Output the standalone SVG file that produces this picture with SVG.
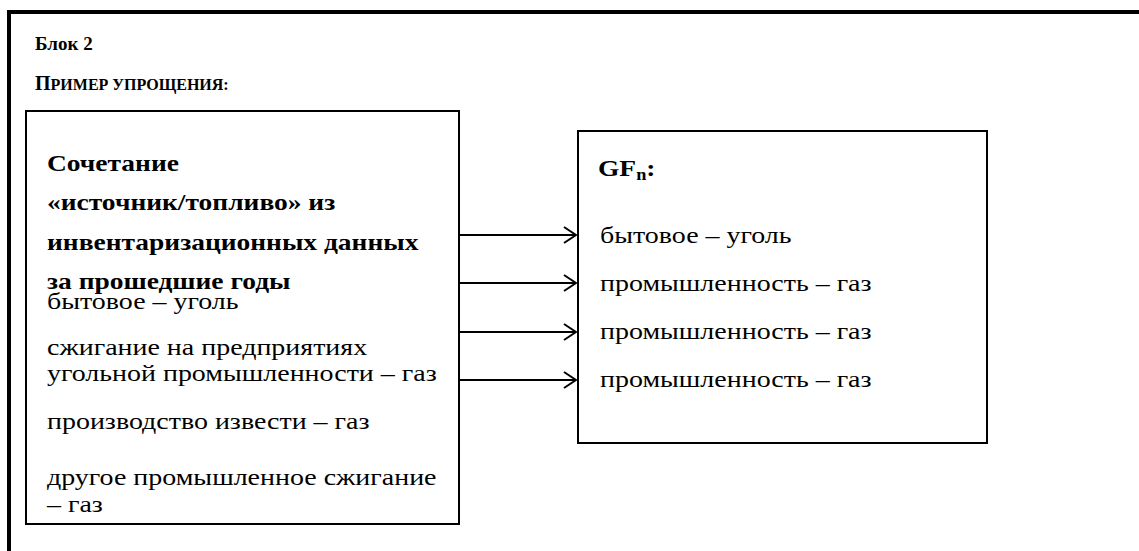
<svg xmlns="http://www.w3.org/2000/svg" width="1139" height="551" viewBox="0 0 1139 551">
<defs>
<style>
.t{font-family:"Liberation Serif","Times New Roman",serif;font-size:24px;fill:#000}
.h{font-family:"Liberation Serif","Times New Roman",serif;font-weight:bold;fill:#000}
.b{font-weight:bold}
.box{fill:#fff;stroke:#000;stroke-width:2}
.arr{stroke:#000;stroke-width:2;fill:none}
</style>
<marker id="ah" viewBox="0 0 14 18" refX="13" refY="9" markerWidth="14" markerHeight="18" markerUnits="userSpaceOnUse" orient="auto">
<path d="M1 1 L13 9 L1 17" fill="none" stroke="#000" stroke-width="2"/>
</marker>
</defs>
<rect width="1139" height="551" fill="#fff"/>
<path d="M9 551 V12 H1139" fill="none" stroke="#000" stroke-width="4"/>
<g id="header">
<text class="h" x="35" y="50" style="font-size:19px">Блок 2</text>
<text class="h" x="35" y="90" style="font-size:20px">П<tspan style="font-size:16px">РИМЕР УПРОЩЕНИЯ:</tspan></text>
</g>
<g id="source">
<rect class="box" x="26" y="111" width="433" height="413"/>
<text class="t b" transform="translate(47,171) scale(1.145,1)">Сочетание</text>
<text class="t b" transform="translate(47,210) scale(1.145,1)">«источник/топливо» из</text>
<text class="t b" transform="translate(47,250) scale(1.145,1)">инвентаризационных данных</text>
<text class="t b" transform="translate(47,289) scale(1.145,1)">за прошедшие годы</text>
<text class="t" transform="translate(47,309) scale(1.165,1)">бытовое – уголь</text>
<text class="t" transform="translate(47,355) scale(1.165,1)">сжигание на предприятиях</text>
<text class="t" transform="translate(47,381) scale(1.165,1)">угольной промышленности – газ</text>
<text class="t" transform="translate(47,429) scale(1.165,1)">производство извести – газ</text>
<text class="t" transform="translate(47,485) scale(1.165,1)">другое промышленное сжигание</text>
<text class="t" transform="translate(47,512) scale(1.165,1)">– газ</text>
</g>
<g id="target">
<rect class="box" x="578" y="131" width="409" height="312"/>
<text class="t b" transform="translate(598,176) scale(1.145,1)">GF<tspan style="font-size:16px" dy="4">n</tspan><tspan dy="-4">:</tspan></text>
<text class="t" transform="translate(600,243) scale(1.165,1)">бытовое – уголь</text>
<text class="t" transform="translate(600,291) scale(1.165,1)">промышленность – газ</text>
<text class="t" transform="translate(600,339) scale(1.165,1)">промышленность – газ</text>
<text class="t" transform="translate(600,387) scale(1.165,1)">промышленность – газ</text>
</g>
<g id="connectors">
<line class="arr" x1="459" y1="235" x2="576" y2="235" marker-end="url(#ah)"/>
<line class="arr" x1="459" y1="283" x2="576" y2="283" marker-end="url(#ah)"/>
<line class="arr" x1="459" y1="332" x2="576" y2="332" marker-end="url(#ah)"/>
<line class="arr" x1="459" y1="380" x2="576" y2="380" marker-end="url(#ah)"/>
</g>
</svg>
